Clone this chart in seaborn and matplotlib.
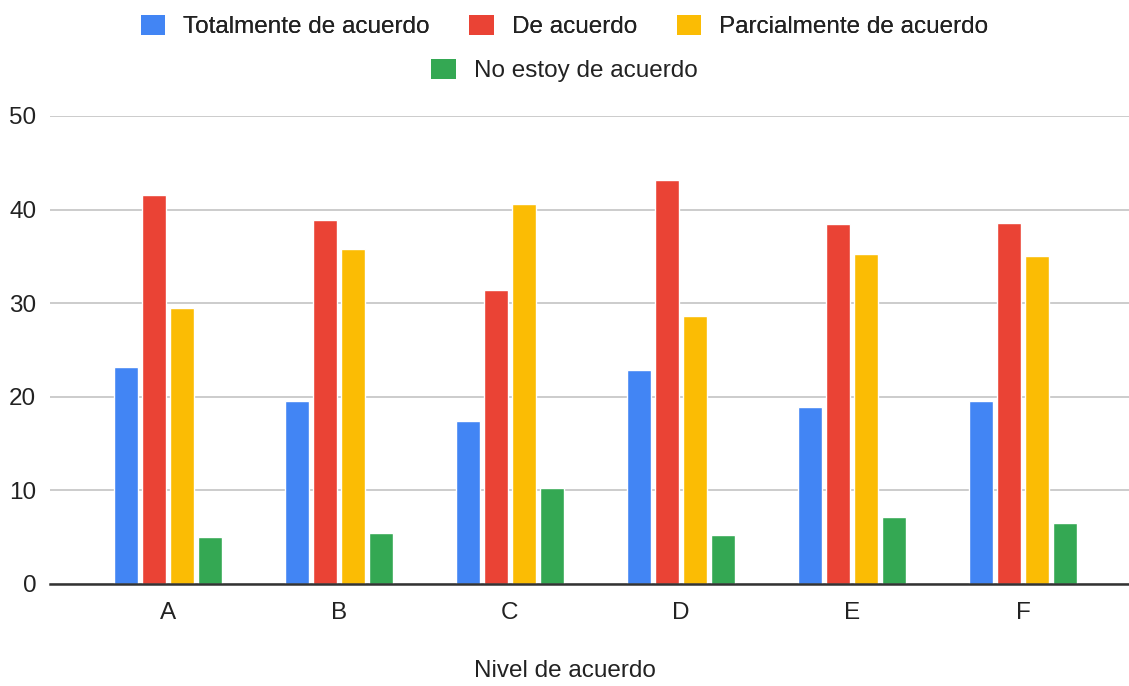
import matplotlib
matplotlib.use('Agg')
import matplotlib.pyplot as plt
import seaborn as sns
import pandas as pd
from matplotlib.patches import Patch

# Data

categories = ['A', 'B', 'C', 'D', 'E', 'F']
series = ['Totalmente de acuerdo', 'De acuerdo', 'Parcialmente de acuerdo', 'No estoy de acuerdo']
totalmente = [23.2, 19.5, 17.4, 22.8, 18.9, 19.5]
de_acuerdo = [41.6, 38.9, 31.4, 43.2, 38.4, 38.6]
parcialmente = [29.5, 35.8, 40.6, 28.6, 35.2, 35.0]
no_acuerdo = [5.0, 5.4, 10.2, 5.2, 7.1, 6.5]
colors = ['#4285F4', '#EA4335', '#FBBC04', '#34A853']

values = [totalmente, de_acuerdo, parcialmente, no_acuerdo]
df = pd.DataFrame([
    {'nivel': c, 'serie': s, 'valor': v}
    for s, vals in zip(series, values)
    for c, v in zip(categories, vals)
])

sns.set_style('white')
plt.rcParams['font.family'] = ['Liberation Sans', 'DejaVu Sans']
FS = 17.5

fig = plt.figure(figsize=(11.29, 6.86), dpi=100)
ax = fig.add_axes([0.0443, 0.149, 0.9557, 0.682])

sns.barplot(data=df, x='nivel', y='valor', hue='serie', hue_order=series,
            palette=colors, width=0.66, gap=0.14, saturation=1,
            legend=False, ax=ax)

ax.set_ylim(0, 50)
ax.set_xlim(-0.69, 5.62)
ax.set_yticks([0, 10, 20, 30, 40, 50])
ax.yaxis.grid(True, color='#c8c8c8', linewidth=1.3)
ax.set_axisbelow(True)
for s in ['top', 'right', 'left']:
    ax.spines[s].set_visible(False)
ax.spines['bottom'].set_color('#333333')
ax.spines['bottom'].set_linewidth(1.8)
ax.tick_params(axis='both', length=0, labelsize=FS, colors='#222222')
ax.tick_params(axis='y', pad=10)
ax.tick_params(axis='x', pad=13)
ax.set_ylabel('')
ax.set_xlabel('')

fig.text(0.5, 0.006, 'Nivel de acuerdo', ha='center', va='bottom',
         fontsize=FS, color='#222222')

handles = [Patch(facecolor=c, edgecolor='none') for c in colors]
leg_kw = dict(frameon=False, fontsize=FS, handlelength=1.0, handleheight=0.9,
              handletextpad=0.74, columnspacing=1.65, borderpad=0,
              labelcolor='#222222')
leg1 = fig.legend(handles[:3], series[:3], loc='center', bbox_to_anchor=(0.5, 0.961),
                  ncol=3, **leg_kw)
fig.add_artist(leg1)
fig.legend(handles[3:], series[3:], loc='center', bbox_to_anchor=(0.5, 0.897),
           ncol=1, **leg_kw)

fig.savefig('out.png', dpi=100, facecolor='white')
